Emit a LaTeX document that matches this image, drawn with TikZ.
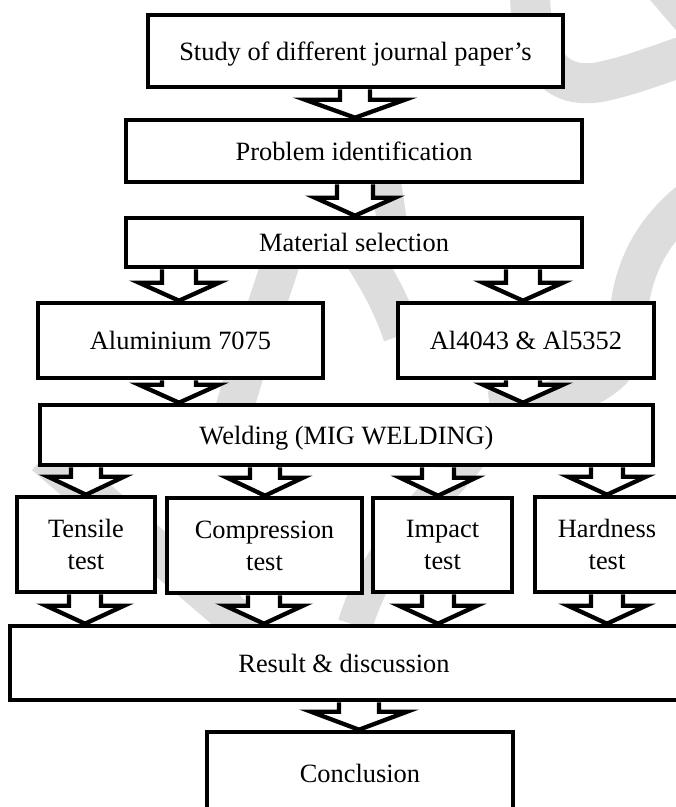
\documentclass[tikz,border=0pt]{standalone}
\usepackage{fontspec}
\setmainfont{Liberation Serif}
\usetikzlibrary{calc}
\pgfdeclarelayer{wm}
\pgfdeclarelayer{arrows}
\pgfsetlayers{wm,arrows,main}
\definecolor{wmgray}{RGB}{221,221,221}
\tikzset{
  box/.style={draw, line width=4.6pt, fill=white, inner sep=0pt,
    font=\fontsize{26.4}{32}\selectfont, align=center},
  onebox/.style={box, text height=18pt, text depth=0pt},
  barrowstyle/.style={draw, line width=4.3pt, fill=white, line join=miter},
  wmstroke/.style={draw=wmgray, line width=40pt},
}
\newcommand\barrow[5]{%
  \draw[barrowstyle] let \p1=(#2.south), \p2=(#3.north) in
   ({(#1-#4)*1pt},\y1) -- ({(#1-#4)*1pt},{\y2+18pt}) -- ({(#1-#5)*1pt},{\y2+18pt})
   -- ({#1*1pt},\y2) -- ({(#1+#5)*1pt},{\y2+18pt}) -- ({(#1+#4)*1pt},{\y2+18pt})
   -- ({(#1+#4)*1pt},\y1);
}
\begin{document}
\begin{tikzpicture}[x=1pt,y=-1pt]
\useasboundingbox (0,0) rectangle (676,807);

\node[onebox, minimum width=415pt, minimum height=72pt] (study) at (355.5,51) {Study of different journal paper’s};
\node[onebox, minimum width=456pt, minimum height=62pt] (prob) at (354,151) {Problem identification};
\node[onebox, minimum width=456pt, minimum height=49pt] (mat) at (354,242.5) {Material selection};
\node[onebox, minimum width=285pt, minimum height=75pt] (alu) at (180.5,340.5) {Aluminium 7075};
\node[onebox, minimum width=256pt, minimum height=75pt] (alf) at (526,340.5) {Al4043 \& Al5352};
\node[onebox, minimum width=613pt, minimum height=60pt] (weld) at (346.5,435) {Welding (MIG WELDING)};
\node[box, minimum width=138pt, minimum height=95pt] (tens) at (86,544.5) {Tensile\\test};
\node[box, minimum width=195pt, minimum height=95pt] (comp) at (264.5,545.5) {Compression\\test};
\node[box, minimum width=139pt, minimum height=94pt] (imp) at (442.5,545) {Impact\\test};
\node[box, minimum width=144pt, minimum height=95pt] (hard) at (607,544.5) {Hardness\\test};
\node[onebox, minimum width=668pt, minimum height=74pt] (res) at (344,663) {Result \& discussion};
\node[onebox, minimum width=306pt, minimum height=82pt] (conc) at (360,773) {Conclusion};

\begin{pgfonlayer}{wm}
\fill[white] (0,0) rectangle (676,807);
\draw[wmstroke] (530,-10) .. controls (530,60) and (555,90) .. (600,82) .. controls (630,76) and (660,64) .. (690,54);
\draw[wmstroke, line width=28pt] (660,-10) -- (690,25);
\draw[wmstroke, line width=38pt] (690,200) .. controls (640,240) and (628,290) .. (628,330) .. controls (628,380) and (580,400) .. (490,410);
\draw[wmstroke, line width=30pt] (385,175) -- (392,222);
\draw[wmstroke, line width=38pt] (362,255) .. controls (378,280) and (392,305) .. (402,335);
\draw[wmstroke, line width=38pt] (285,250) .. controls (262,320) and (238,390) .. (222,455);
\draw[wmstroke] (45,455) -- (255,635);
\draw[wmstroke, line width=35pt] (470,455) .. controls (430,505) and (380,545) .. (355,625);
\end{pgfonlayer}

\begin{pgfonlayer}{arrows}
\barrow{355}{study}{prob}{15}{50}
\barrow{355}{prob}{mat}{18}{40}
\barrow{179}{mat}{alu}{17}{40}
\barrow{523}{mat}{alf}{17}{40}
\barrow{179}{alu}{weld}{17}{40}
\barrow{523}{alf}{weld}{17}{40}
\barrow{86}{weld}{tens}{15}{38}
\barrow{265}{weld}{comp}{15}{38}
\barrow{438}{weld}{imp}{16}{38}
\barrow{607}{weld}{hard}{16}{39}
\barrow{85}{tens}{res}{16}{39}
\barrow{264}{comp}{res}{16}{39}
\barrow{438}{imp}{res}{16}{39}
\barrow{607}{hard}{res}{16}{39}
\barrow{359}{res}{conc}{20}{48}
\end{pgfonlayer}
\end{tikzpicture}
\end{document}
